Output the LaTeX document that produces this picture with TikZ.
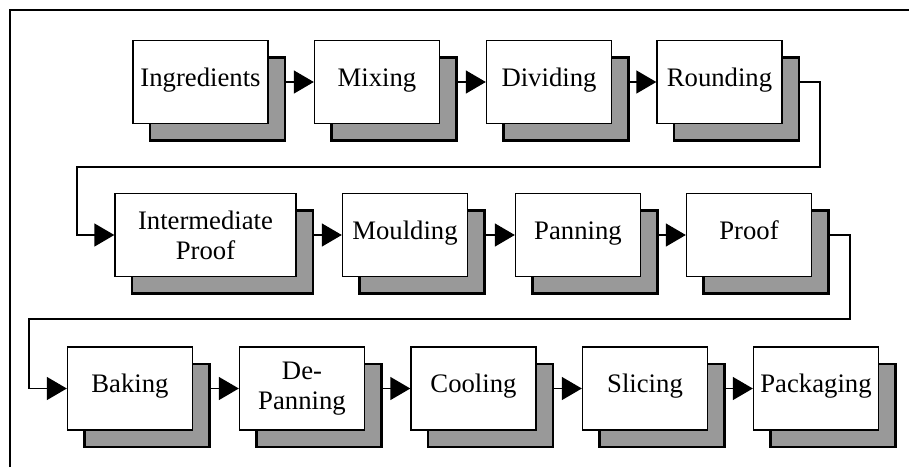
\documentclass[tikz,border=0pt]{standalone}
\usepackage{fontspec}
\setmainfont{Liberation Serif}
\usetikzlibrary{arrows.meta,shadows}

\begin{document}
\begin{tikzpicture}[x=0.02cm, y=-0.02cm,
  stage/.style={draw, line width=0.8pt, fill=white, minimum width=2.5cm, minimum height=1.66cm,
    inner sep=1pt, align=center, font=\fontsize{15.2}{17}\selectfont,
    text height=0.7em, text depth=0.22em,
    general shadow={shadow xshift=0.34cm, shadow yshift=-0.34cm, fill=black!40, draw=black, line width=1.4pt}},
  twoline/.style={text height=, text depth=},
  flow/.style={line width=0.8pt, -{Triangle[length=0.4cm, width=0.46cm]}}]
  \useasboundingbox (0,0) rectangle (909,467);
  \draw[line width=0.8pt] (10,467) -- (10,10) -- (909,10);
  \node[stage, minimum width=2.7cm] (ingr) at (200.5,82) {Ingredients};
  \node[stage] (mix) at (377,82) {Mixing};
  \node[stage] (div) at (549,82) {Dividing};
  \node[stage] (round) at (719.5,82) {Rounding};
  \node[stage, twoline, minimum width=3.62cm] (iproof) at (205.5,235) {Intermediate\\Proof};
  \node[stage] (mould) at (405,235) {Moulding};
  \node[stage] (pan) at (578,235) {Panning};
  \node[stage] (proof) at (749,235) {Proof};
  \node[stage] (bake) at (130,388.5) {Baking};
  \node[stage, twoline] (depan) at (302,388.5) {De-\\Panning};
  \node[stage] (cool) at (473.5,388.5) {Cooling};
  \node[stage] (slice) at (645,388.5) {Slicing};
  \node[stage] (pack) at (816,388.5) {Packaging};
  \draw[flow] ([xshift=0.34cm]ingr.east) -- (mix.west);
  \draw[flow] ([xshift=0.34cm]mix.east) -- (div.west);
  \draw[flow] ([xshift=0.34cm]div.east) -- (round.west);
  \draw[flow] ([xshift=0.34cm]round.east) -| (820,167) -- (77,167) |- (iproof.west);
  \draw[flow] ([xshift=0.34cm]iproof.east) -- (mould.west);
  \draw[flow] ([xshift=0.34cm]mould.east) -- (pan.west);
  \draw[flow] ([xshift=0.34cm]pan.east) -- (proof.west);
  \draw[flow] ([xshift=0.34cm]proof.east) -| (850,319) -- (29,319) |- (bake.west);
  \draw[flow] ([xshift=0.34cm]bake.east) -- (depan.west);
  \draw[flow] ([xshift=0.34cm]depan.east) -- (cool.west);
  \draw[flow] ([xshift=0.34cm]cool.east) -- (slice.west);
  \draw[flow] ([xshift=0.34cm]slice.east) -- (pack.west);
\end{tikzpicture}
\end{document}
